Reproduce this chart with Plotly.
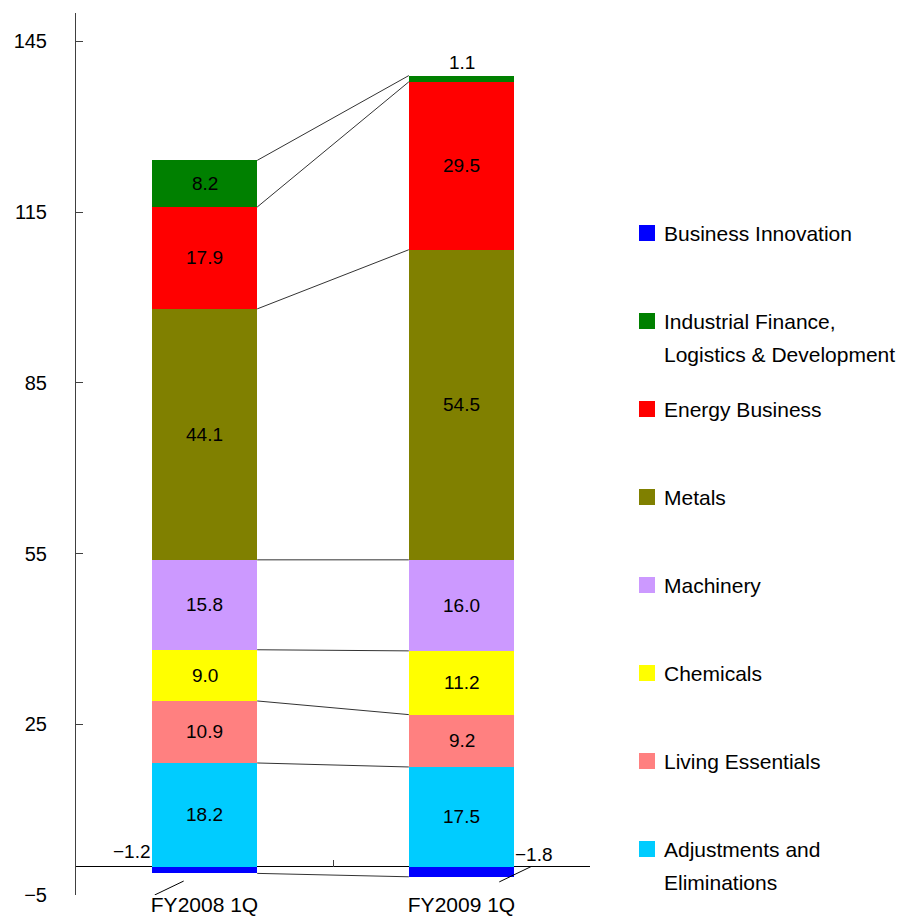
import plotly.graph_objects as go

# ---------------- data ----------------
categories = ["FY2008 1Q", "FY2009 1Q"]

business_innovation = [-1.2, -1.8]
industrial_finance = [8.2, 1.1]
energy_business = [17.9, 29.5]
metals = [44.1, 54.5]
machinery = [15.8, 16.0]
chemicals = [9.0, 11.2]
living_essentials = [10.9, 9.2]
adjustments = [18.2, 17.5]

# legend order (top to bottom)
legend_names = ["Business Innovation",
                "Industrial Finance,<br>Logistics & Development",
                "Energy Business", "Metals", "Machinery", "Chemicals",
                "Living Essentials", "Adjustments and<br>Eliminations"]
legend_colors = ["#0000FF", "#008000", "#FF0000", "#808000",
                 "#CC99FF", "#FFFF00", "#FF8080", "#00CCFF"]

y_ticks = [-5, 25, 55, 85, 115, 145]

# positive stack bottom -> top
stack_values = [adjustments, living_essentials, chemicals, machinery,
                metals, energy_business, industrial_finance]
stack_colors = ["#00CCFF", "#FF8080", "#FFFF00", "#CC99FF",
                "#808000", "#FF0000", "#008000"]

FONT = "Liberation Sans, Arial, sans-serif"
BAR_W = 0.41
xs = list(range(len(categories)))

fig = go.Figure()

# negative bar
fig.add_trace(go.Bar(x=xs, y=business_innovation, width=BAR_W,
                     marker=dict(color="#0000FF", line=dict(width=0)),
                     hoverinfo="skip", showlegend=False))
for vals, col in zip(stack_values, stack_colors):
    fig.add_trace(go.Bar(x=xs, y=vals, width=BAR_W,
                         marker=dict(color=col, line=dict(width=0)),
                         hoverinfo="skip", showlegend=False))

# boundaries for connectors
bounds = []
for i in xs:
    b = [business_innovation[i]]
    c = 0.0
    for vals in stack_values:
        c += vals[i]
        b.append(c)
    bounds.append(b)

for j in range(len(bounds[0])):
    fig.add_trace(go.Scatter(x=[xs[0] + BAR_W / 2, xs[1] - BAR_W / 2],
                             y=[bounds[0][j], bounds[1][j]],
                             mode="lines", line=dict(color="#333333", width=1),
                             hoverinfo="skip", showlegend=False))

# invisible trace for tick axis
fig.add_trace(go.Scatter(x=xs, y=[None, None], xaxis="x2", mode="markers",
                         hoverinfo="skip", showlegend=False))

annotations = []
# segment labels
for i in xs:
    base = 0.0
    for vals in stack_values:
        v = vals[i]
        if v >= 2:
            annotations.append(dict(x=xs[i], y=base + v / 2, xref="x", yref="y",
                                    text=f"{v:.1f}", showarrow=False,
                                    font=dict(size=19, color="black", family=FONT)))
        else:
            annotations.append(dict(x=xs[i], y=base + v, xref="x", yref="y",
                                    text=f"{v:.1f}", showarrow=False,
                                    yanchor="bottom", yshift=1,
                                    font=dict(size=19, color="black", family=FONT)))
        base += v

# negative labels
neg_txt = [f"\u2212{abs(v):.1f}" for v in business_innovation]
annotations.append(dict(x=xs[0] - BAR_W / 2, y=0, xref="x", yref="y",
                        text=neg_txt[0], showarrow=False, xanchor="right",
                        yanchor="bottom", yshift=4, borderpad=0,
                        font=dict(size=19, color="black", family=FONT)))
annotations.append(dict(x=xs[1] + BAR_W / 2, y=0, xref="x", yref="y",
                        text=neg_txt[1], showarrow=False, xanchor="left",
                        yanchor="bottom", yshift=1, borderpad=0,
                        font=dict(size=19, color="black", family=FONT)))

# custom legend
L, R, T, B = 76, 310, 13, 21
W, H = 900, 916
pw, ph = W - L - R, H - T - B


def px_x(p):
    return (p - L) / pw


def px_y(p):
    return (H - B - p) / ph


shapes = []
row0, gap, line_gap = 233, 88, 33
for k, (name, col) in enumerate(zip(legend_names, legend_colors)):
    yc = row0 + k * gap
    shapes.append(dict(type="rect", xref="paper", yref="paper",
                       x0=px_x(639), x1=px_x(655), y0=px_y(yc + 8), y1=px_y(yc - 8),
                       fillcolor=col, line=dict(width=0)))
    for m, part in enumerate(name.split("<br>")):
        annotations.append(dict(x=px_x(663), y=px_y(yc + m * line_gap),
                                xref="paper", yref="paper", text=part,
                                showarrow=False, xanchor="left", yanchor="middle",
                                borderpad=0,
                                font=dict(size=21, color="black", family=FONT)))

# leader lines
shapes.append(dict(type="line", xref="x", yref="y",
                   x0=xs[0] - 0.194, y0=-5, x1=xs[0] - 0.081, y1=-2.55,
                   line=dict(color="black", width=1)))
shapes.append(dict(type="line", xref="x", yref="y",
                   x0=xs[1] + 0.147, y0=-2.7, x1=xs[1] + 0.271, y1=0,
                   line=dict(color="black", width=1)))

fig.update_layout(
    width=W, height=H, margin=dict(l=L, r=R, t=T, b=B),
    paper_bgcolor="white", plot_bgcolor="white",
    barmode="relative", bargap=0,
    font=dict(family=FONT, size=20, color="black"),
    xaxis=dict(range=[-0.5, 1.5], tickvals=xs, ticktext=categories,
               showline=False, ticks="", showgrid=False, zeroline=False,
               tickfont=dict(size=21, family=FONT), automargin=False,
               ticklabelstandoff=-5),
    xaxis2=dict(overlaying="x", anchor="free", position=5 / 155,
                range=[-0.5, 1.5], tickvals=[0.5, 1.5], ticks="inside",
                ticklen=7, tickcolor="#404040", showticklabels=False,
                showline=False, showgrid=False, zeroline=False),
    yaxis=dict(range=[-5, 150], tickvals=y_ticks, ticks="inside", ticklen=7,
               tickcolor="#404040", showline=True, linecolor="#404040",
               linewidth=1, zeroline=True, zerolinecolor="black",
               zerolinewidth=1, showgrid=False, layer="above traces",
               tickfont=dict(size=20, family=FONT), ticklabelstandoff=24,
               automargin=False),
    annotations=annotations, shapes=shapes,
)

fig.write_html("out.html")
